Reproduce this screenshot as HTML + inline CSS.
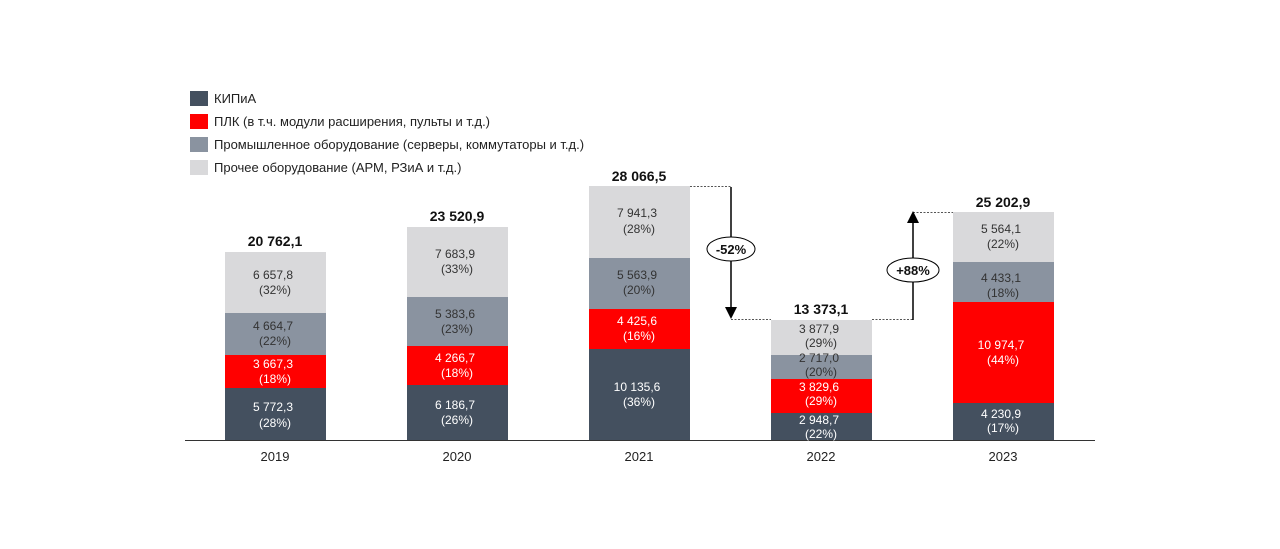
<!DOCTYPE html><html><head><meta charset="utf-8"><style>body{margin:0;background:#fff}svg{display:block;font-family:"Liberation Sans","DejaVu Sans",sans-serif}</style></head><body>
<svg width="1280" height="549" viewBox="0 0 1280 549" xmlns="http://www.w3.org/2000/svg">
<defs><marker id="ah" markerWidth="8" markerHeight="8" refX="4" refY="4" orient="auto"><path d="M0,0 L8,4 L0,8 z" fill="#000"/></marker></defs>
<g font-size="13" fill="#222">
<rect x="190" y="91" width="18" height="15" fill="#44505f"/><text x="214" y="103">КИПиА</text>
<rect x="190" y="114" width="18" height="15" fill="#ff0000"/><text x="214" y="126">ПЛК (в т.ч. модули расширения, пульты и т.д.)</text>
<rect x="190" y="137" width="18" height="15" fill="#8a93a0"/><text x="214" y="149">Промышленное оборудование (серверы, коммутаторы и т.д.)</text>
<rect x="190" y="160" width="18" height="15" fill="#d9d9db"/><text x="214" y="172">Прочее оборудование (АРМ, РЗиА и т.д.)</text>
</g>
<g>
<rect x="225" y="388" width="101" height="52" fill="#44505f"/><rect x="225" y="355" width="101" height="33" fill="#ff0000"/><rect x="225" y="313" width="101" height="42" fill="#8a93a0"/><rect x="225" y="252" width="101" height="61" fill="#d9d9db"/>
<rect x="407" y="385" width="101" height="55" fill="#44505f"/><rect x="407" y="346" width="101" height="39" fill="#ff0000"/><rect x="407" y="297" width="101" height="49" fill="#8a93a0"/><rect x="407" y="227" width="101" height="70" fill="#d9d9db"/>
<rect x="589" y="349" width="101" height="91" fill="#44505f"/><rect x="589" y="309" width="101" height="40" fill="#ff0000"/><rect x="589" y="258" width="101" height="51" fill="#8a93a0"/><rect x="589" y="186" width="101" height="72" fill="#d9d9db"/>
<rect x="771" y="413" width="101" height="27" fill="#44505f"/><rect x="771" y="379" width="101" height="34" fill="#ff0000"/><rect x="771" y="355" width="101" height="24" fill="#8a93a0"/><rect x="771" y="320" width="101" height="35" fill="#d9d9db"/>
<rect x="953" y="403" width="101" height="37" fill="#44505f"/><rect x="953" y="302" width="101" height="101" fill="#ff0000"/><rect x="953" y="262" width="101" height="40" fill="#8a93a0"/><rect x="953" y="212" width="101" height="50" fill="#d9d9db"/>
</g>
<line x1="185" y1="440.5" x2="1095" y2="440.5" stroke="#333" stroke-width="1"/>
<g font-size="12" text-anchor="middle">
<g fill="#fff">
<text x="273" y="411">5 772,3</text><text x="275" y="427">(28%)</text>
<text x="273" y="368">3 667,3</text><text x="275" y="383">(18%)</text>
<text x="455" y="409">6 186,7</text><text x="457" y="424">(26%)</text>
<text x="455" y="362">4 266,7</text><text x="457" y="377">(18%)</text>
<text x="637" y="391">10 135,6</text><text x="639" y="406">(36%)</text>
<text x="637" y="325">4 425,6</text><text x="639" y="340">(16%)</text>
<text x="819" y="424">2 948,7</text><text x="821" y="438">(22%)</text>
<text x="819" y="391">3 829,6</text><text x="821" y="405">(29%)</text>
<text x="1001" y="418">4 230,9</text><text x="1003" y="432">(17%)</text>
<text x="1001" y="349">10 974,7</text><text x="1003" y="364">(44%)</text>
</g>
<g fill="#333">
<text x="273" y="330">4 664,7</text><text x="275" y="345">(22%)</text>
<text x="273" y="279">6 657,8</text><text x="275" y="294">(32%)</text>
<text x="455" y="318">5 383,6</text><text x="457" y="333">(23%)</text>
<text x="455" y="258">7 683,9</text><text x="457" y="273">(33%)</text>
<text x="637" y="279">5 563,9</text><text x="639" y="294">(20%)</text>
<text x="637" y="217">7 941,3</text><text x="639" y="233">(28%)</text>
<text x="819" y="362">2 717,0</text><text x="821" y="376">(20%)</text>
<text x="819" y="333">3 877,9</text><text x="821" y="347">(29%)</text>
<text x="1001" y="282">4 433,1</text><text x="1003" y="297">(18%)</text>
<text x="1001" y="233">5 564,1</text><text x="1003" y="248">(22%)</text>
</g>
</g>
<g font-size="14" font-weight="bold" text-anchor="middle" fill="#111">
<text x="275" y="246">20 762,1</text><text x="457" y="221">23 520,9</text><text x="639" y="181">28 066,5</text><text x="821" y="314">13 373,1</text><text x="1003" y="207">25 202,9</text>
</g>
<g font-size="13" text-anchor="middle" fill="#222">
<text x="275" y="461">2019</text><text x="457" y="461">2020</text><text x="639" y="461">2021</text><text x="821" y="461">2022</text><text x="1003" y="461">2023</text>
</g>
<g stroke="#555" stroke-dasharray="2,1.5" stroke-width="1">
<line x1="690" y1="186.5" x2="731" y2="186.5"/><line x1="731" y1="319.5" x2="771" y2="319.5"/>
<line x1="872" y1="319.5" x2="913" y2="319.5"/><line x1="913" y1="212.5" x2="953" y2="212.5"/>
</g>
<g stroke="#000" stroke-width="1.5">
<line x1="731" y1="187" x2="731" y2="313" marker-end="url(#ah)"/>
<line x1="913" y1="320" x2="913" y2="217" marker-end="url(#ah)"/>
</g>
<ellipse cx="731" cy="249" rx="24" ry="12" fill="#fff" stroke="#000" stroke-width="1"/>
<ellipse cx="913" cy="270" rx="26" ry="12" fill="#fff" stroke="#000" stroke-width="1"/>
<g font-size="13" font-weight="bold" text-anchor="middle" fill="#111">
<text x="731" y="254">-52%</text><text x="913" y="275">+88%</text>
</g>
</svg>
</body></html>
